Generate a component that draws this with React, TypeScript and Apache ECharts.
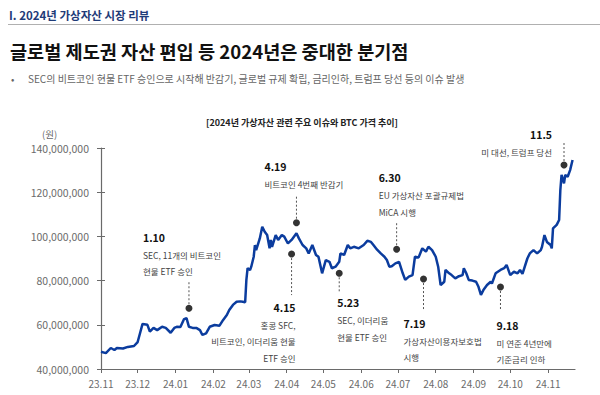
import React, { useEffect, useRef } from "react";
import * as echarts from "echarts";

const tickLabels = ["23.11", "23.12", "24.01", "24.02", "24.03", "24.04", "24.05", "24.06", "24.07", "24.08", "24.09", "24.10", "24.11"];
const axisStart = "2023-11-01";
const axisEnd = "2024-11-23";

const dates = [
  "2023-11-01", "2023-11-05", "2023-11-09", "2023-11-12", "2023-11-14", "2023-11-19", "2023-11-23", "2023-11-28",
  "2023-12-01", "2023-12-03", "2023-12-05", "2023-12-09", "2023-12-11", "2023-12-14", "2023-12-17", "2023-12-21",
  "2023-12-24", "2023-12-28", "2023-12-31", "2024-01-02", "2024-01-05", "2024-01-08", "2024-01-10", "2024-01-12",
  "2024-01-15", "2024-01-18", "2024-01-21", "2024-01-23", "2024-01-26", "2024-01-29", "2024-02-02", "2024-02-06",
  "2024-02-09", "2024-02-12", "2024-02-14", "2024-02-17", "2024-02-20", "2024-02-23", "2024-02-25", "2024-02-27",
  "2024-02-28", "2024-02-29", "2024-03-02", "2024-03-03", "2024-03-05", "2024-03-06", "2024-03-07", "2024-03-10",
  "2024-03-12", "2024-03-14", "2024-03-16", "2024-03-18", "2024-03-19", "2024-03-20", "2024-03-23", "2024-03-25",
  "2024-03-28", "2024-03-30", "2024-04-02", "2024-04-05", "2024-04-09", "2024-04-11", "2024-04-14", "2024-04-17",
  "2024-04-19", "2024-04-22", "2024-04-25", "2024-04-27", "2024-04-30", "2024-05-03", "2024-05-06", "2024-05-08",
  "2024-05-11", "2024-05-14", "2024-05-15", "2024-05-18", "2024-05-21", "2024-05-23", "2024-05-26", "2024-05-30",
  "2024-06-03", "2024-06-06", "2024-06-09", "2024-06-11", "2024-06-14", "2024-06-17", "2024-06-20", "2024-06-22",
  "2024-06-24", "2024-06-26", "2024-06-29", "2024-07-02", "2024-07-05", "2024-07-07", "2024-07-10", "2024-07-13",
  "2024-07-15", "2024-07-18", "2024-07-21", "2024-07-24", "2024-07-26", "2024-07-29", "2024-08-01", "2024-08-03",
  "2024-08-05", "2024-08-08", "2024-08-09", "2024-08-12", "2024-08-14", "2024-08-17", "2024-08-20", "2024-08-23",
  "2024-08-24", "2024-08-26", "2024-08-28", "2024-08-31", "2024-09-03", "2024-09-05", "2024-09-07", "2024-09-09",
  "2024-09-12", "2024-09-15", "2024-09-16", "2024-09-19", "2024-09-23", "2024-09-26", "2024-09-28", "2024-10-01",
  "2024-10-04", "2024-10-07", "2024-10-09", "2024-10-11", "2024-10-15", "2024-10-17", "2024-10-20", "2024-10-23",
  "2024-10-26", "2024-10-27", "2024-10-29", "2024-10-31", "2024-11-03", "2024-11-04", "2024-11-05", "2024-11-08",
  "2024-11-10", "2024-11-11", "2024-11-12", "2024-11-14", "2024-11-15", "2024-11-17", "2024-11-19", "2024-11-21",
];

const prices = [
  47800000, 47200000, 49500000, 48600000, 49500000, 49300000, 50000000, 50400000,
  52200000, 56300000, 60400000, 60000000, 56900000, 58600000, 57600000, 59100000,
  58600000, 56400000, 58600000, 59100000, 59000000, 62600000, 63000000, 59100000,
  58600000, 58600000, 57600000, 55400000, 56100000, 59100000, 59900000, 59600000,
  62200000, 64400000, 66700000, 69000000, 70400000, 70600000, 70400000, 70200000,
  80300000, 85600000, 84800000, 86300000, 90800000, 96100000, 93800000, 99100000,
  104400000, 102100000, 100600000, 94600000, 98400000, 95300000, 100600000, 98400000,
  100600000, 99900000, 96800000, 98400000, 101400000, 99100000, 96100000, 94600000,
  92300000, 96100000, 91600000, 90800000, 83300000, 89300000, 88500000, 85600000,
  86300000, 88500000, 92300000, 91600000, 96100000, 94600000, 95300000, 94600000,
  96100000, 98000000, 97500000, 96100000, 94000000, 92300000, 90800000, 89300000,
  86300000, 86500000, 87800000, 88500000, 83300000, 80300000, 81800000, 82500000,
  90800000, 90500000, 94600000, 93100000, 95300000, 93800000, 90800000, 86300000,
  78000000, 79500000, 84800000, 83300000, 82500000, 81000000, 82000000, 82500000,
  85600000, 83300000, 80300000, 80000000, 79500000, 77200000, 73500000, 75700000,
  78000000, 79500000, 78700000, 83300000, 84800000, 85600000, 87100000, 82500000,
  84000000, 83300000, 84800000, 83000000, 90000000, 92300000, 93800000, 92300000,
  93800000, 95300000, 100600000, 97500000, 96100000, 94600000, 103600000, 105200000,
  107400000, 121000000, 127800000, 124000000, 127800000, 127000000, 130000000, 134600000,
];

const eventDates = ["2024-01-12", "2024-04-09", "2024-04-05", "2024-05-14", "2024-06-30", "2024-07-22", "2024-09-23", "2024-11-14"];
const eventValues = [67500000, 106200000, 92000000, 83300000, 94200000, 80700000, 77100000, 132300000];
const eventTitles = ["1.10", "4.19", "4.15", "5.23", "6.30", "7.19", "9.18", "11.5"];
const eventTexts = [
  ["SEC, 11개의 비트코인", "현물 ETF 승인"],
  ["비트코인 4번째 반감기"],
  ["홍콩 SFC,", "비트코인, 이더리움 현물", "ETF 승인"],
  ["SEC, 이더리움", "현물 ETF 승인"],
  ["EU 가상자산 포괄규제법", "MiCA 시행"],
  ["가상자산이용자보호법", "시행"],
  ["미 연준 4년만에", "기준금리 인하"],
  ["미 대선, 트럼프 당선"],
];

// layout of annotation blocks relative to each dot (pixels)
const eventLayout = [
  { align: "left", dx: -46, dy: -71, line: -27 },
  { align: "left", dx: -32, dy: -56, line: -27 },
  { align: "right", dx: 4, dy: 53, line: 41 },
  { align: "left", dx: -2, dy: 29.5, line: 20 },
  { align: "left", dx: -18, dy: -71.5, line: -27.5 },
  { align: "left", dx: -20, dy: 44.3, line: 31.5 },
  { align: "left", dx: -4, dy: 38, line: 24 },
  { align: "right", dx: -12, dy: -31, line: -22 },
];

const FONT = '"Noto Sans CJK KR", "Noto Sans", sans-serif';

function monthStart(label: string) {
  const [yy, mm] = label.split(".").map(Number);
  return new Date(2000 + yy, mm - 1, 1).getTime();
}

function ts(d: string) {
  const [y, m, dd] = d.split("-").map(Number);
  return new Date(y, m - 1, dd).getTime();
}

export default function App() {
  const ref = useRef<HTMLDivElement>(null);
  useEffect(() => {
    if (!ref.current) return;
    const chart = echarts.init(ref.current, undefined, { renderer: "svg" });
    const monthTicks = tickLabels.map(monthStart);
    const axisColor = "#6a6a6a";
    const option: any = {
      animation: false,
      backgroundColor: "#ffffff",
      grid: { left: 101, right: 25, top: 148, bottom: 26, containLabel: false },
      xAxis: {
        type: "value",
        min: ts(axisStart),
        max: ts(axisEnd),
        axisLine: { show: true, onZero: false, lineStyle: { color: axisColor, width: 1.2 } },
        axisTick: { show: true, length: 4, customValues: monthTicks, lineStyle: { color: axisColor } },
        axisLabel: {
          customValues: monthTicks,
          formatter: (v: number) => {
            const i = monthTicks.indexOf(v);
            return i >= 0 ? tickLabels[i] : "";
          },
          color: "#6b6b6b",
          fontSize: 10,
          fontFamily: FONT,
          margin: 9,
        },
        splitLine: { show: false },
      },
      yAxis: [
        {
          type: "value",
          min: 40000000,
          max: 140000000,
          interval: 20000000,
          axisLine: { show: true, onZero: false, lineStyle: { color: axisColor, width: 1.2 } },
          axisTick: { show: true, length: 4, lineStyle: { color: axisColor } },
          axisLabel: {
            formatter: (v: number) => v.toLocaleString("en-US"),
            color: "#6b6b6b",
            fontSize: 10.5,
            fontFamily: FONT,
            margin: 12,
          },
          splitLine: { show: false },
        },
        {
          type: "value",
          min: 40000000,
          max: 140000000,
          interval: 20000000,
          position: "left",
          axisLine: { show: false, onZero: false },
          axisTick: { show: true, inside: true, length: 4, lineStyle: { color: axisColor } },
          axisLabel: { show: false },
          splitLine: { show: false },
        },
      ],
      series: [
        {
          type: "line",
          data: dates.map((d, i) => [ts(d), prices[i]]),
          showSymbol: false,
          symbol: "none",
          lineStyle: { color: "#0b3c9e", width: 2.5 },
          z: 2,
        },
        {
          type: "scatter",
          data: eventDates.map((d, i) => [ts(d), eventValues[i]]),
          symbol: "circle",
          symbolSize: 7,
          itemStyle: { color: "#000000" },
          z: 5,
        },
      ],
    };
    chart.setOption(option);

    const graphics: any[] = [
      {
        type: "text",
        style: { text: "I. 2024년 가상자산 시장 리뷰", x: 9, y: 15, verticalAlign: "middle", textVerticalAlign: "middle", fill: "#1f3b78", fontSize: 11.5, fontWeight: "bold", fontFamily: FONT },
      },
      { type: "line", shape: { x1: 8, y1: 24.5, x2: 600, y2: 24.5 }, style: { stroke: "#b0b0b0", lineWidth: 1 } },
      {
        type: "text",
        style: { text: "글로벌 제도권 자산 편입 등 2024년은 중대한 분기점", x: 10, y: 50, verticalAlign: "middle", textVerticalAlign: "middle", fill: "#111111", fontSize: 18.6, fontWeight: "bold", fontFamily: FONT },
      },
      {
        type: "text",
        style: { text: "•", x: 11, y: 78, verticalAlign: "middle", textVerticalAlign: "middle", fill: "#666666", fontSize: 10, fontFamily: FONT },
      },
      {
        type: "text",
        style: { text: "SEC의 비트코인 현물 ETF 승인으로 시작해 반감기, 글로벌 규제 확립, 금리인하, 트럼프 당선 등의 이슈 발생", x: 28, y: 78, verticalAlign: "middle", textVerticalAlign: "middle", fill: "#666666", fontSize: 10, fontFamily: FONT },
      },
      {
        type: "text",
        style: { text: "[2024년 가상자산 관련 주요 이슈와 BTC 가격 추이]", x: 302, y: 122, align: "center", textAlign: "center", verticalAlign: "middle", textVerticalAlign: "middle", fill: "#222222", fontSize: 9, fontWeight: "bold", fontFamily: FONT },
      },
      {
        type: "text",
        style: { text: "(원)", x: 42, y: 134, verticalAlign: "middle", textVerticalAlign: "middle", fill: "#666666", fontSize: 9.5, fontFamily: FONT },
      },
    ];

    eventDates.forEach((d, i) => {
      const [px, py] = chart.convertToPixel({ gridIndex: 0 }, [ts(d), eventValues[i]]) as number[];
      const lay = eventLayout[i];
      const sign = lay.line < 0 ? -1 : 1;
      graphics.push({
        type: "line",
        z: 1,
        shape: { x1: px, y1: py + sign * 4, x2: px, y2: py + lay.line },
        style: { stroke: "#555555", lineWidth: 1, lineDash: [2, 2] },
      });
      const tx = px + lay.dx;
      let ty = py + lay.dy;
      graphics.push({
        type: "text",
        style: {
          text: eventTitles[i], x: tx, y: ty, align: lay.align, textAlign: lay.align,
          verticalAlign: "middle", textVerticalAlign: "middle",
          fill: "#111111", fontSize: 10.5, fontWeight: "bold", fontFamily: FONT,
        },
      });
      ty += 17.5;
      eventTexts[i].forEach((t) => {
        graphics.push({
          type: "text",
          style: {
            text: t, x: tx, y: ty, align: lay.align, textAlign: lay.align,
            verticalAlign: "middle", textVerticalAlign: "middle",
            fill: "#444444", fontSize: 8.5, fontFamily: FONT,
          },
        });
        ty += 16.5;
      });
    });

    chart.setOption({ graphic: graphics });
    return () => chart.dispose();
  }, []);
  return <div ref={ref} style={{ position: "absolute", left: 0, top: 0, width: 600, height: 395 }} />;
}
